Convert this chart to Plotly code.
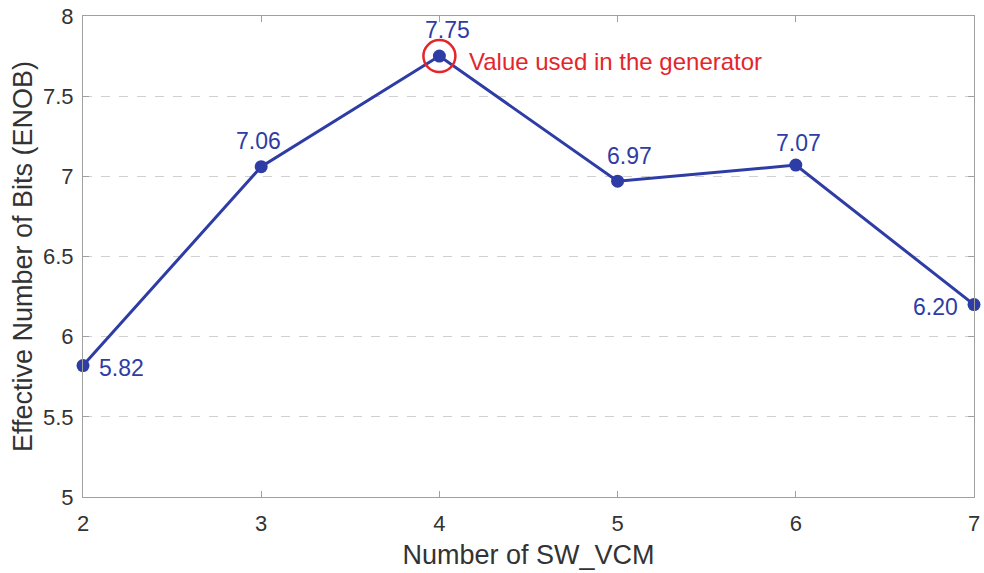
import plotly.graph_objects as go

sw_vcm = [2, 3, 4, 5, 6, 7]
enob = [5.82, 7.06, 7.75, 6.97, 7.07, 6.20]
labels = ["5.82", "7.06", "7.75", "6.97", "7.07", "6.20"]
label_dx = [38, -3, 8, 12, 3, -39]
label_dy = [-2, 26, 26, 25, 22, -2]
x_ticks = [2, 3, 4, 5, 6, 7]
y_ticks = [5, 5.5, 6, 6.5, 7, 7.5, 8]
highlight_x = 4
highlight_y = 7.75
highlight_text = "Value used in the generator"

BLUE = "#2E3CA5"
RED = "#E4262C"
FONT = "Arial, Liberation Sans, Helvetica, sans-serif"

fig = go.Figure()
fig.add_trace(go.Scatter(
    x=sw_vcm, y=enob, mode="lines+markers",
    line=dict(color=BLUE, width=3),
    marker=dict(color=BLUE, size=13),
    showlegend=False, hoverinfo="x+y", cliponaxis=False,
))

for xv, yv, t, dx, dy in zip(sw_vcm, enob, labels, label_dx, label_dy):
    fig.add_annotation(x=xv, y=yv, text=t, showarrow=False, xshift=dx, yshift=dy,
                       font=dict(family=FONT, size=23, color=BLUE),
                       xanchor="center", yanchor="middle")

fig.add_shape(type="circle", xref="x", yref="y", xsizemode="pixel", ysizemode="pixel",
              xanchor=highlight_x, yanchor=highlight_y, x0=-16, x1=16, y0=-16, y1=16,
              line=dict(color=RED, width=2.5), fillcolor="rgba(0,0,0,0)")
fig.add_annotation(x=highlight_x, y=highlight_y, text=highlight_text, showarrow=False,
                   xshift=28, yshift=-5, xanchor="left", yanchor="middle",
                   font=dict(family=FONT, size=24, color=RED))

fig.update_layout(
    width=984, height=573,
    margin=dict(l=83, r=4, t=13, b=76),
    paper_bgcolor="white", plot_bgcolor="white",
    font=dict(family=FONT, color="#333333"),
)
fig.update_xaxes(
    range=[2, 7], tickvals=x_ticks, ticktext=[str(v) for v in x_ticks],
    showgrid=False, zeroline=False,
    showline=True, linecolor="#A0A0A0", linewidth=1.2, mirror="ticks",
    ticks="inside", ticklen=6, tickcolor="#A0A0A0",
    tickfont=dict(size=22, family=FONT, color="#333333"),
    ticklabelstandoff=6, ticklabeloverflow="allow",
    title=dict(text="Number of SW_VCM", font=dict(size=27, family=FONT, color="#333333"), standoff=10),
)
fig.update_yaxes(
    range=[5, 8], tickvals=y_ticks, ticktext=[f"{v:g}" for v in y_ticks],
    showgrid=True, gridcolor="#D0D0D0", griddash="dash", gridwidth=1,
    zeroline=False,
    showline=True, linecolor="#A0A0A0", linewidth=1.2, mirror="ticks",
    ticks="inside", ticklen=6, tickcolor="#A0A0A0",
    tickfont=dict(size=22, family=FONT, color="#333333"),
    ticklabelstandoff=4, ticklabeloverflow="allow",
    title=dict(text="Effective Number of Bits (ENOB)", font=dict(size=27, family=FONT, color="#333333"), standoff=2),
)

fig.write_html("out.html", config={"displayModeBar": False},
               post_script="document.body.style.margin='0';document.body.style.overflow='hidden';")
